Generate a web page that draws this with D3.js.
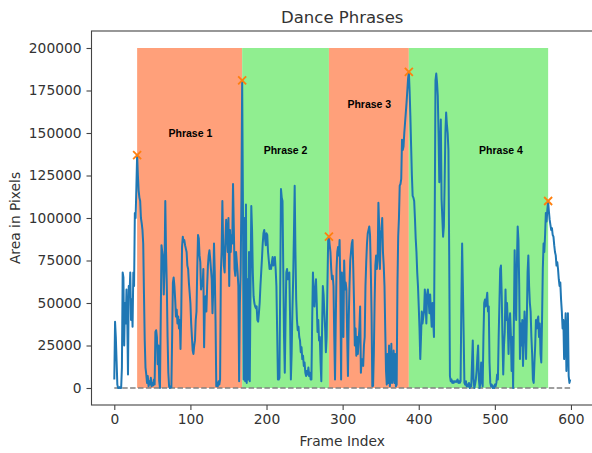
<!DOCTYPE html>
<html>
<head>
<meta charset="utf-8">
<script src="https://cdn.jsdelivr.net/npm/d3@7"></script>
<style>
    body { margin: 0; background: #fff; }
    text { font-family: "DejaVu Sans", sans-serif; }
</style>
</head>
<body>
<script>
// area in pixels for every frame 0..599
var area = [
    5000, 39000, 30000, 16000, 2000, 0, 0, 500, 0, 0,
    12000, 68000, 65000, 25000, 50000, 38000, 58000, 42000, 8000, 60000,
    55000, 68000, 40000, 52000, 36000, 68000, 60000, 103000, 100000, 118000,
    137000, 125000, 116000, 112000, 110000, 100000, 97000, 93000, 85000, 55000,
    28000, 12000, 8000, 3000, 7000, 1000, 4000, 2000, 6000, 1000,
    3000, 1500, 5000, 2000, 33000, 34000, 30000, 14000, 25000, 4000,
    0, 40000, 84000, 80000, 77000, 55000, 70000, 110000, 80000, 60000,
    30000, 9000, 1000, 0, 1000, 500, 30000, 62000, 65000, 60000,
    52000, 42000, 46000, 38000, 42000, 35000, 40000, 23000, 45000, 83000,
    89000, 86000, 87000, 84000, 82000, 80000, 72000, 70000, 62000, 56000,
    50000, 38000, 30000, 22000, 20000, 25000, 28000, 40000, 45000, 70000,
    90000, 88000, 78000, 74000, 58000, 62000, 60000, 70000, 24000, 50000,
    54000, 45000, 60000, 72000, 78000, 81000, 76000, 70000, 64000, 44000,
    58000, 85000, 68000, 40000, 1000, 3000, 1000, 4000, 2000, 5000,
    68000, 80000, 110000, 85000, 72000, 68000, 87000, 99000, 90000, 80000,
    100000, 60000, 93000, 80000, 90000, 85000, 120000, 95000, 70000, 66000,
    80000, 74000, 68000, 60000, 4000, 50000, 68000, 110000, 181000, 110000,
    5000, 100000, 4000, 108000, 3000, 64000, 5000, 80000, 4000, 60000,
    107000, 93000, 68000, 54000, 50000, 48000, 47000, 48000, 40000, 39000,
    44000, 50000, 60000, 68000, 76000, 85000, 91000, 93000, 88000, 84000,
    91000, 90000, 80000, 75000, 70000, 72000, 70000, 74000, 77000, 72000,
    75000, 77000, 70000, 60000, 33000, 5000, 5000, 6000, 60000, 117000,
    112000, 110000, 70000, 30000, 9000, 40000, 68000, 70000, 64000, 66000,
    68000, 40000, 5000, 20000, 45000, 64000, 90000, 119000, 80000, 52000,
    40000, 34000, 36000, 30000, 28000, 21000, 24000, 17000, 19000, 13000,
    15000, 9000, 7000, 10000, 8000, 12000, 7000, 9000, 5000, 5000,
    40000, 68000, 55000, 48000, 58000, 64000, 50000, 33000, 40000, 28000,
    30000, 15000, 4000, 35000, 60000, 55000, 44000, 35000, 21000, 30000,
    60000, 87000, 89000, 84000, 80000, 70000, 64000, 66000, 60000, 30000,
    5000, 40000, 70000, 80000, 83000, 78000, 87000, 60000, 5000, 68000,
    52000, 30000, 75000, 58000, 62000, 58000, 30000, 7000, 40000, 60000,
    75000, 80000, 85000, 87000, 70000, 50000, 25000, 35000, 19000, 30000,
    20000, 28000, 35000, 48000, 9000, 17000, 14000, 13000, 25000, 30000,
    60000, 74000, 85000, 91000, 93000, 95000, 90000, 70000, 44000, 1000,
    1200, 20000, 50000, 72000, 78000, 70000, 75000, 109000, 95000, 70000,
    90000, 93000, 100000, 80000, 72000, 60000, 34000, 10000, 2000, 20000,
    3000, 25000, 1000, 5000, 26000, 3000, 8000, 22000, 3000, 20000,
    1000, 2000, 60000, 89000, 100000, 119000, 120000, 123000, 146000, 140000,
    142000, 150000, 156000, 162000, 168000, 175000, 182000, 186000, 175000, 160000,
    142000, 125000, 113000, 112000, 110000, 100000, 88000, 80000, 68000, 60000,
    48000, 35000, 17000, 30000, 45000, 38000, 42000, 45000, 58000, 50000,
    38000, 55000, 58000, 52000, 44000, 55000, 45000, 36000, 50000, 40000,
    30000, 100000, 181000, 185000, 180000, 172000, 150000, 121000, 140000, 158000,
    111000, 100000, 89000, 95000, 120000, 150000, 162000, 155000, 150000, 140000,
    80000, 7000, 4000, 5000, 3000, 4000, 3000, 4000, 4000, 3500,
    4000, 5000, 3000, 4000, 3000, 4000, 50000, 85000, 60000, 32000,
    3000, 2000, 4000, 1000, 2000, 1000, 3000, 0, 2000, 1000,
    15000, 28000, 5000, 0, 2000, 5000, 10000, 18000, 25000, 5000,
    0, 3000, 15000, 5000, 1000, 30000, 50000, 52000, 48000, 52000,
    56000, 45000, 48000, 15000, 3000, 1000, 2000, 0, 1000, 0,
    2000, 1000, 3000, 8000, 5000, 30000, 50000, 70000, 72000, 55000,
    30000, 8000, 25000, 33000, 58000, 40000, 50000, 38000, 20000, 38000,
    44000, 32000, 10000, 30000, 0, 40000, 81000, 55000, 40000, 74000,
    95000, 87000, 60000, 17000, 38000, 25000, 40000, 13000, 30000, 45000,
    35000, 17000, 40000, 68000, 78000, 60000, 50000, 45000, 30000, 20000,
    5000, 3000, 15000, 25000, 40000, 35000, 40000, 42000, 30000, 38000,
    20000, 15000, 40000, 70000, 85000, 80000, 90000, 103000, 98000, 105000,
    110000, 104000, 99000, 96000, 93000, 94000, 90000, 89000, 84000, 80000,
    78000, 72000, 74000, 70000, 64000, 60000, 62000, 52000, 45000, 35000,
    40000, 17000, 30000, 44000, 10000, 25000, 44000, 7000, 3000, 5000
];

// peak frames splitting the dance into phrases
var peaks = [30, 168, 282, 387, 570];
var phraseNames = ["Phrase 1", "Phrase 2", "Phrase 3", "Phrase 4"];
var phraseColors = ["#ffa07a", "#90ee90", "#ffa07a", "#90ee90"];
var phraseTop = 200000;
var labelX = [100, 225, 335, 508];
var labelY = [150000, 140000, 167000, 140000];

var xTicks = [0, 100, 200, 300, 400, 500, 600];
var yTicks = [0, 25000, 50000, 75000, 100000, 125000, 150000, 175000, 200000];

(function() {
    var width = 592,
        height = 453,
        plotLeft = 91.5,
        plotRight = 593,
        plotTop = 31,
        plotBottom = 405,
        ink = "#333",
        spine = "#444";

    var svg = d3.select("body").append("svg")
                .attr("width", width)
                .attr("height", height);

    var x = d3.scaleLinear().domain([-29.95, 628.95]).range([plotLeft, plotRight]);
    var y = d3.scaleLinear().domain([-10000, 210000]).range([plotBottom, plotTop]);

    // phrase spans
    var spans = phraseNames.map(function(name, i) {
        return {name: name, start: peaks[i], end: peaks[i + 1], color: phraseColors[i],
                lx: labelX[i], ly: labelY[i]};
    });

    svg.selectAll(".span")
       .data(spans)
       .enter().append("rect")
       .attr("class", "span")
       .attr("x", function(d) { return x(d.start); })
       .attr("width", function(d) { return x(d.end) - x(d.start); })
       .attr("y", y(phraseTop))
       .attr("height", y(0) - y(phraseTop))
       .style("fill", function(d) { return d.color; });

    // zero baseline
    svg.append("line")
       .attr("x1", x(0))
       .attr("x2", x(area.length - 1))
       .attr("y1", y(0))
       .attr("y2", y(0))
       .style("stroke", "#808080")
       .style("stroke-width", 1.5)
       .style("stroke-dasharray", "5.5,2.4");

    var line = d3.line()
                 .x(function(d, i) { return x(i); })
                 .y(function(d) { return y(d); });

    svg.append("path")
       .datum(area)
       .attr("d", line)
       .style("fill", "none")
       .style("stroke", "#1f77b4")
       .style("stroke-width", 2)
       .style("stroke-linejoin", "round");

    // peak markers
    var m = 4;
    svg.selectAll(".peak")
       .data(peaks)
       .enter().append("path")
       .attr("class", "peak")
       .attr("transform", function(d) { return "translate(" + x(d) + "," + y(area[d]) + ")"; })
       .attr("d", "M" + (-m) + "," + (-m) + "L" + m + "," + m + "M" + (-m) + "," + m + "L" + m + "," + (-m))
       .style("stroke", "#ff7f0e")
       .style("stroke-width", 1.8);

    svg.selectAll(".phraseLabel")
       .data(spans)
       .enter().append("text")
       .attr("class", "phraseLabel")
       .attr("x", function(d) { return x(d.lx); })
       .attr("y", function(d) { return y(d.ly); })
       .attr("dy", "0.36em")
       .attr("text-anchor", "middle")
       .style("font-family", "'Liberation Sans', Arial, sans-serif")
       .style("font-weight", "bold")
       .style("font-size", "10.5px")
       .style("fill", "#000")
       .text(function(d) { return d.name; });

    // axes
    var xAxis = svg.append("g")
                   .attr("transform", "translate(0," + plotBottom + ")")
                   .call(d3.axisBottom(x).tickValues(xTicks).tickSize(5).tickPadding(4).tickFormat(d3.format("d")));

    var yAxis = svg.append("g")
                   .attr("transform", "translate(" + plotLeft + ",0)")
                   .call(d3.axisLeft(y).tickValues(yTicks).tickSize(5).tickPadding(5).tickFormat(d3.format("d")));

    [xAxis, yAxis].forEach(function(a) {
        a.select(".domain").remove();
        a.selectAll(".tick line").style("stroke", spine).style("stroke-width", 1.1);
        a.selectAll(".tick text")
         .style("font-family", "'DejaVu Sans', sans-serif")
         .style("font-size", "13.8px")
         .style("fill", ink);
    });

    svg.append("rect")
       .attr("x", plotLeft)
       .attr("y", plotTop)
       .attr("width", plotRight - plotLeft)
       .attr("height", plotBottom - plotTop)
       .style("fill", "none")
       .style("stroke", spine)
       .style("stroke-width", 1.1);

    svg.append("text")
       .attr("x", (plotLeft + plotRight) / 2)
       .attr("y", 22.5)
       .attr("text-anchor", "middle")
       .style("font-size", "16.5px")
       .style("fill", ink)
       .text("Dance Phrases");

    svg.append("text")
       .attr("x", (plotLeft + plotRight) / 2)
       .attr("y", 446)
       .attr("text-anchor", "middle")
       .style("font-size", "13.8px")
       .style("fill", ink)
       .text("Frame Index");

    svg.append("text")
       .attr("transform", "translate(20," + ((plotTop + plotBottom) / 2) + ") rotate(-90)")
       .attr("text-anchor", "middle")
       .style("font-size", "13.8px")
       .style("fill", ink)
       .text("Area in Pixels");
})();
</script>
</body>
</html>
